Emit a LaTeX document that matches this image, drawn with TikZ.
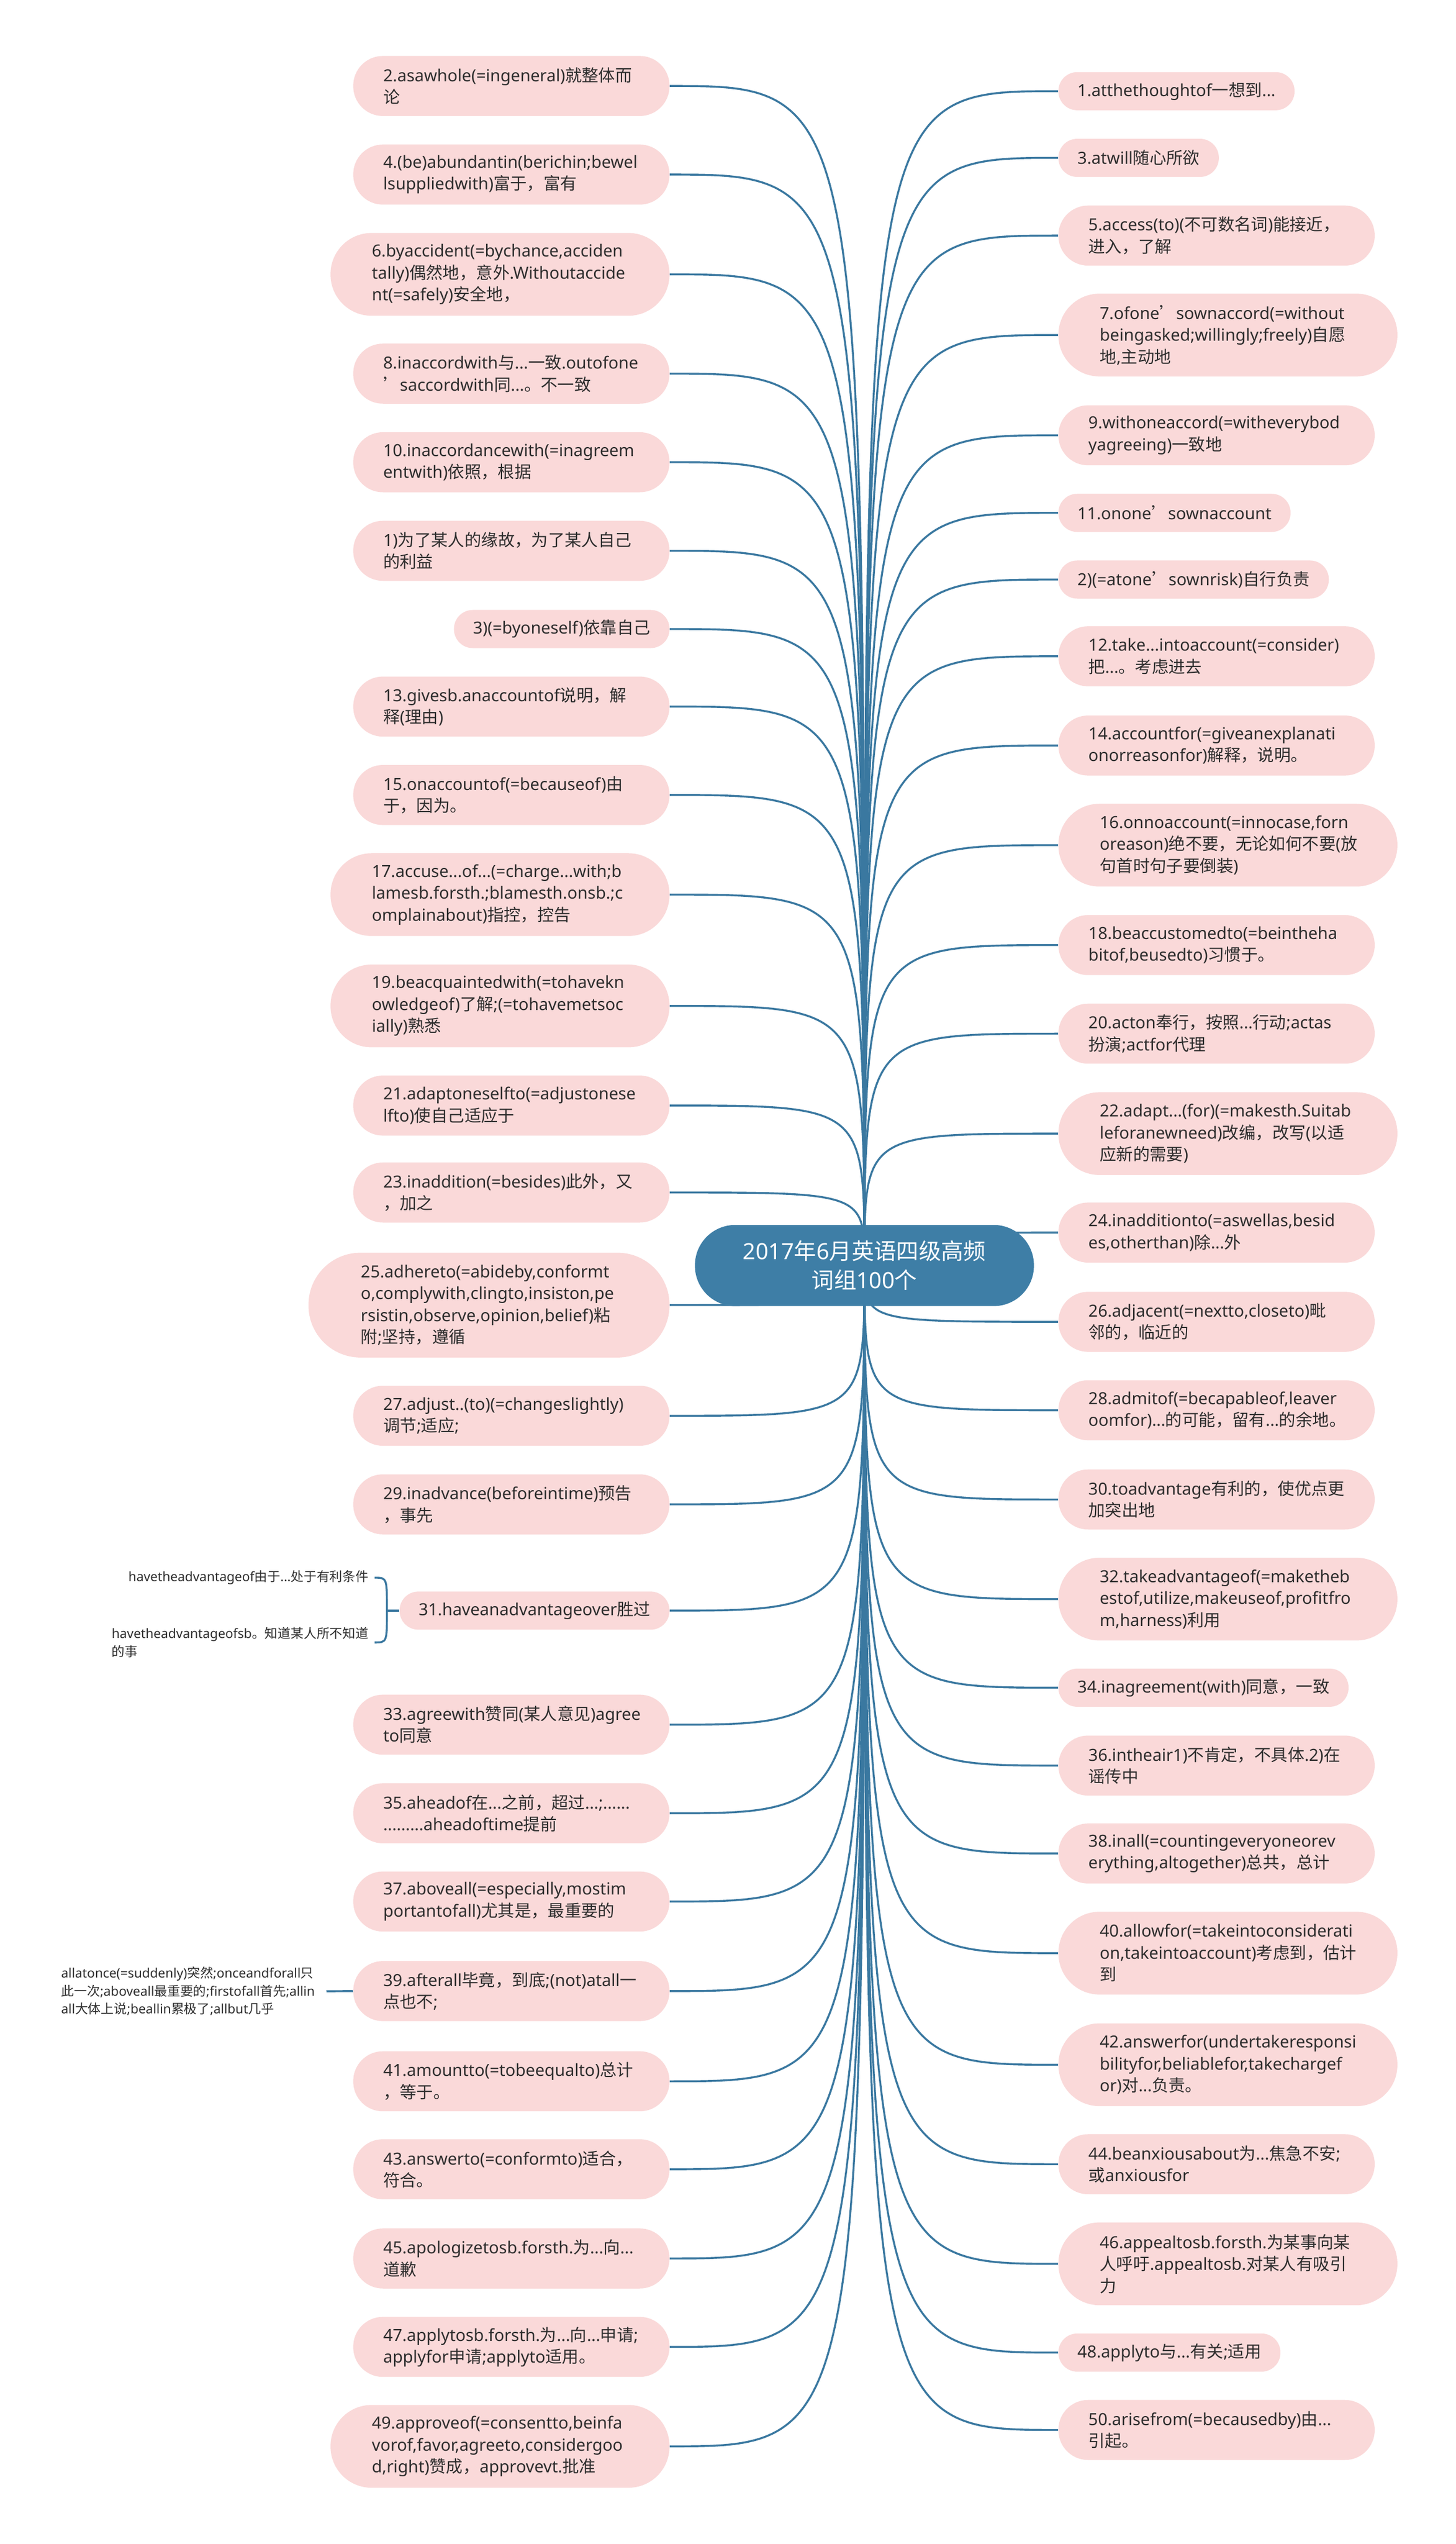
\documentclass[tikz,border=0pt]{standalone}
\usepackage{fontspec}
\setmainfont{Noto Sans}
\newfontfamily\latinfont{Noto Sans}
\newfontfamily\cjkfont{Noto Sans CJK SC}
\usetikzlibrary{backgrounds}

% switch to the CJK font for Chinese characters and full-width punctuation
\XeTeXinterchartokenstate=1
\newXeTeXintercharclass\cjkclass
\newcount\cjkcode
\newcommand\setcjkrange[2]{\cjkcode=#1\relax
  \loop\XeTeXcharclass\cjkcode=\cjkclass\relax
  \ifnum\cjkcode<#2\relax\advance\cjkcode by 1\relax\repeat}
\setcjkrange{"3000}{"303F}
\setcjkrange{"4E00}{"9FFF}
\setcjkrange{"FF00}{"FFEF}
\XeTeXcharclass"2019=\cjkclass
\XeTeXinterchartoks 0 \cjkclass = {\cjkfont}
\XeTeXinterchartoks 4095 \cjkclass = {\cjkfont}
\XeTeXinterchartoks \cjkclass 0 = {\latinfont}
\XeTeXinterchartoks \cjkclass 4095 = {\latinfont}

\definecolor{leafpink}{RGB}{250,217,217}
\definecolor{rootblue}{RGB}{62,126,166}
\definecolor{branchblue}{RGB}{58,120,160}
\definecolor{leaftext}{RGB}{45,45,45}
\newcommand{\leaffont}{\fontsize{10.3pt}{13.5pt}\selectfont}
\newcommand{\notefont}{\fontsize{8pt}{11pt}\selectfont}
\newcommand{\rootfont}{\fontsize{13.8pt}{18pt}\selectfont}

\begin{document}
\begin{tikzpicture}[
    leaf/.style={rectangle, fill=leafpink, text=leaftext, font=\leaffont,
        inner ysep=3pt, align=left},
    wide/.style={leaf, text width=158pt},
    oneline/.style={minimum height=23.5pt, inner xsep=11.75pt, rounded corners=11.6pt},
    twoline/.style={minimum height=37pt, inner xsep=18.5pt, rounded corners=18.3pt},
    threeline/.style={minimum height=51pt, inner xsep=25.5pt, rounded corners=25.3pt},
    fourline/.style={minimum height=64.6pt, inner xsep=32.3pt, rounded corners=32.1pt},
    note/.style={font=\notefont, text=leaftext, inner xsep=3.5pt, inner ysep=1pt, align=left},
    branch/.style={draw=branchblue, line width=1.2pt}
]
\useasboundingbox (0pt,0pt) rectangle (897.4pt,-1568pt);
\begin{scope}[on background layer]
    \fill[white] (0pt,0pt) rectangle (897.4pt,-1568pt);
\end{scope}

% centre
\node[rectangle, rounded corners=24.8pt, fill=rootblue, text=white, font=\rootfont, align=center,
    minimum height=50pt, minimum width=209pt] (root) at (533pt,-780pt) {2017年6月英语四级高频\\词组100个};

% left side
\node[wide, twoline, anchor=east] (l1) at (413pt,-53pt) {2.asawhole(=ingeneral)就整体而\\论};
\node[wide, twoline, anchor=east] (l2) at (413pt,-107.6pt) {4.(be)abundantin(berichin;bewel\\lsuppliedwith)富于，富有};
\node[wide, threeline, anchor=east] (l3) at (413pt,-169.1pt) {6.byaccident(=bychance,acciden\\tally)偶然地，意外.Withoutaccide\\nt(=safely)安全地，};
\node[wide, twoline, anchor=east] (l4) at (413pt,-230.3pt) {8.inaccordwith与...一致.outofone\\’saccordwith同...。不一致};
\node[wide, twoline, anchor=east] (l5) at (413pt,-284.9pt) {10.inaccordancewith(=inagreem\\entwith)依照，根据};
\node[wide, twoline, anchor=east] (l6) at (413pt,-339.5pt) {1)为了某人的缘故，为了某人自己\\的利益};
\node[leaf, oneline, anchor=east] (l7) at (413pt,-387.7pt) {3)(=byoneself)依靠自己};
\node[wide, twoline, anchor=east] (l8) at (413pt,-435.5pt) {13.givesb.anaccountof说明，解\\释(理由)};
\node[wide, twoline, anchor=east] (l9) at (413pt,-490pt) {15.onaccountof(=becauseof)由\\于，因为。};
\node[wide, threeline, anchor=east] (l10) at (413pt,-551.4pt) {17.accuse...of...(=charge...with;b\\lamesb.forsth.;blamesth.onsb.;c\\omplainabout)指控，控告};
\node[wide, threeline, anchor=east] (l11) at (413pt,-620pt) {19.beacquaintedwith(=tohavekn\\owledgeof)了解;(=tohavemetsoc\\ially)熟悉};
\node[wide, twoline, anchor=east] (l12) at (413pt,-681.4pt) {21.adaptoneselfto(=adjustonese\\lfto)使自己适应于};
\node[wide, twoline, anchor=east] (l13) at (413pt,-735pt) {23.inaddition(=besides)此外，又\\，加之};
\node[wide, fourline, anchor=east] (l14) at (413pt,-804.4pt) {25.adhereto(=abideby,conformt\\o,complywith,clingto,insiston,pe\\rsistin,observe,opinion,belief)粘\\附;坚持，遵循};
\node[wide, twoline, anchor=east] (l15) at (413pt,-872.6pt) {27.adjust..(to)(=changeslightly)\\调节;适应;};
\node[wide, twoline, anchor=east] (l16) at (413pt,-927.2pt) {29.inadvance(beforeintime)预告\\，事先};
\node[leaf, oneline, anchor=east] (l17) at (413pt,-992.7pt) {31.haveanadvantageover胜过};
\node[wide, twoline, anchor=east] (l18) at (413pt,-1063pt) {33.agreewith赞同(某人意见)agree\\to同意};
\node[wide, twoline, anchor=east] (l19) at (413pt,-1117.6pt) {35.aheadof在...之前，超过...;......\\.........aheadoftime提前};
\node[wide, twoline, anchor=east] (l20) at (413pt,-1172pt) {37.aboveall(=especially,mostim\\portantofall)尤其是，最重要的};
\node[wide, twoline, anchor=east] (l21) at (413pt,-1227.2pt) {39.afterall毕竟，到底;(not)atall一\\点也不;};
\node[wide, twoline, anchor=east] (l22) at (413pt,-1282.8pt) {41.amountto(=tobeequalto)总计\\，等于。};
\node[wide, twoline, anchor=east] (l23) at (413pt,-1337pt) {43.answerto(=conformto)适合，\\符合。};
\node[wide, twoline, anchor=east] (l24) at (413pt,-1392pt) {45.apologizetosb.forsth.为...向...\\道歉};
\node[wide, twoline, anchor=east] (l25) at (413pt,-1446.5pt) {47.applytosb.forsth.为...向...申请;\\applyfor申请;applyto适用。};
\node[wide, threeline, anchor=east] (l26) at (413pt,-1507.8pt) {49.approveof(=consentto,beinfa\\vorof,favor,agreeto,considergoo\\d,right)赞成，approvevt.批准};

% notes on the far left
\node[note, anchor=east] (c31a) at (231pt,-972.4pt) {havetheadvantageof由于...处于有利条件};
\node[note, anchor=east] (c31b) at (231pt,-1012.3pt) {havetheadvantageofsb。知道某人所不知道\\的事};
\node[note, anchor=east, inner xsep=7pt] (c39) at (201.3pt,-1227.3pt) {allatonce(=suddenly)突然;onceandforall只\\此一次;aboveall最重要的;firstofall首先;allin\\all大体上说;beallin累极了;allbut几乎};

% right side
\node[leaf, oneline, anchor=west] (r1) at (652.4pt,-56.2pt) {1.atthethoughtof一想到...};
\node[leaf, oneline, anchor=west] (r2) at (652.4pt,-97.3pt) {3.atwill随心所欲};
\node[wide, twoline, anchor=west] (r3) at (652.4pt,-145.2pt) {5.access(to)(不可数名词)能接近，\\进入，了解};
\node[wide, threeline, anchor=west] (r4) at (652.4pt,-206.5pt) {7.ofone’sownaccord(=without\\beingasked;willingly;freely)自愿\\地,主动地};
\node[wide, twoline, anchor=west] (r5) at (652.4pt,-268.3pt) {9.withoneaccord(=witheverybod\\yagreeing)一致地};
\node[leaf, oneline, anchor=west] (r6) at (652.4pt,-316.1pt) {11.onone’sownaccount};
\node[leaf, oneline, anchor=west] (r7) at (652.4pt,-357.2pt) {2)(=atone’sownrisk)自行负责};
\node[wide, twoline, anchor=west] (r8) at (652.4pt,-404.5pt) {12.take...intoaccount(=consider)\\把...。考虑进去};
\node[wide, twoline, anchor=west] (r9) at (652.4pt,-459.5pt) {14.accountfor(=giveanexplanati\\onorreasonfor)解释，说明。};
\node[wide, threeline, anchor=west] (r10) at (652.4pt,-520.9pt) {16.onnoaccount(=innocase,forn\\oreason)绝不要，无论如何不要(放\\句首时句子要倒装)};
\node[wide, twoline, anchor=west] (r11) at (652.4pt,-582.5pt) {18.beaccustomedto(=beintheha\\bitof,beusedto)习惯于。};
\node[wide, twoline, anchor=west] (r12) at (652.4pt,-637.1pt) {20.acton奉行，按照...行动;actas\\扮演;actfor代理};
\node[wide, threeline, anchor=west] (r13) at (652.4pt,-698.7pt) {22.adapt...(for)(=makesth.Suitab\\leforanewneed)改编，改写(以适\\应新的需要)};
\node[wide, twoline, anchor=west] (r14) at (652.4pt,-759.7pt) {24.inadditionto(=aswellas,besid\\es,otherthan)除...外};
\node[wide, twoline, anchor=west] (r15) at (652.4pt,-814.7pt) {26.adjacent(=nextto,closeto)毗\\邻的，临近的};
\node[wide, twoline, anchor=west] (r16) at (652.4pt,-869.2pt) {28.admitof(=becapableof,leaver\\oomfor)...的可能，留有...的余地。};
\node[wide, twoline, anchor=west] (r17) at (652.4pt,-924.2pt) {30.toadvantage有利的，使优点更\\加突出地};
\node[wide, threeline, anchor=west] (r18) at (652.4pt,-985.6pt) {32.takeadvantageof(=maketheb\\estof,utilize,makeuseof,profitfro\\m,harness)利用};
\node[leaf, oneline, anchor=west] (r19) at (652.4pt,-1040.2pt) {34.inagreement(with)同意，一致};
\node[wide, twoline, anchor=west] (r20) at (652.4pt,-1088.2pt) {36.intheair1)不肯定，不具体.2)在\\谣传中};
\node[wide, twoline, anchor=west] (r21) at (652.4pt,-1142.4pt) {38.inall(=countingeveryoneorev\\erything,altogether)总共，总计};
\node[wide, threeline, anchor=west] (r22) at (652.4pt,-1203.8pt) {40.allowfor(=takeintoconsiderati\\on,takeintoaccount)考虑到，估计\\到};
\node[wide, threeline, anchor=west] (r23) at (652.4pt,-1272.6pt) {42.answerfor(undertakeresponsi\\bilityfor,beliablefor,takechargef\\or)对...负责。};
\node[wide, twoline, anchor=west] (r24) at (652.4pt,-1333.9pt) {44.beanxiousabout为...焦急不安;\\或anxiousfor};
\node[wide, threeline, anchor=west] (r25) at (652.4pt,-1395.3pt) {46.appealtosb.forsth.为某事向某\\人呼吁.appealtosb.对某人有吸引\\力};
\node[leaf, oneline, anchor=west] (r26) at (652.4pt,-1450pt) {48.applyto与...有关;适用};
\node[wide, twoline, anchor=west] (r27) at (652.4pt,-1497.7pt) {50.arisefrom(=becausedby)由...\\引起。};

% branches
\begin{scope}[on background layer]
    \foreach \i in {1,...,26}
        \draw[branch] (root.center) .. controls (root.center |- l\i.east) .. (l\i.east);
    \foreach \i in {1,...,27}
        \draw[branch] (root.center) .. controls (root.center |- r\i.west) .. (r\i.west);
    \draw[branch] (l17.west) -- ++(-7.6pt,0pt) coordinate (stem);
    \draw[branch] (stem) .. controls (stem |- c31a.east) .. (c31a.east);
    \draw[branch] (stem) .. controls (stem |- c31b.east) .. (c31b.east);
    \draw[branch] (c39.east) -- (l21.west);
\end{scope}
\end{tikzpicture}
\end{document}
